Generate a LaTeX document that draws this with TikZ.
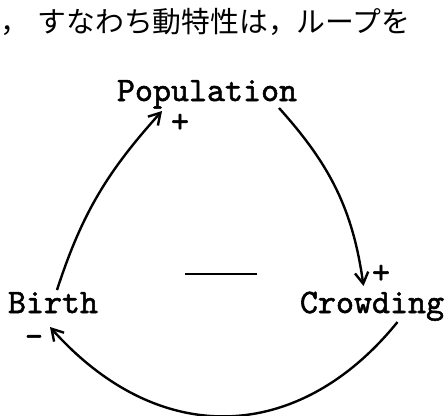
\documentclass[tikz,border=0pt]{standalone}
\usepackage{fontspec}
\newfontfamily\lblfont{lmmono10-regular.otf}[FakeBold=1.6]
\newfontfamily\jpfont{Noto Sans CJK JP}
\usetikzlibrary{arrows.meta}
\tikzset{
  var/.style={font=\lblfont\fontsize{24.4}{28}\selectfont, inner sep=0pt, anchor=base},
  sgn/.style={font=\lblfont\fontsize{24.4}{28}\selectfont, inner sep=0pt},
  lnk/.style={line width=1.7pt, -{Straight Barb[length=8pt,width=9.5pt,line width=1.7pt]}}
}

\begin{document}
\begin{tikzpicture}[x=0.025cm, y=-0.025cm]
  \useasboundingbox (0,0) rectangle (444,415);
  \node[font=\jpfont\fontsize{20.5}{23}\selectfont, anchor=base west, inner sep=0pt] (note) at (0,32) {，\hspace{6pt}すなわち動特性は，ループを};
  \node[var] (pop) at (207,101) {Population};
  \node[var] (birth) at (53,313) {Birth};
  \node[var] (crowd) at (372,313) {Crowding};
  \node[sgn] (ppop) at (180,123) {+};
  \node[sgn] (pcrowd) at (381,274) {+};
  \node[sgn] (mbirth) at (34,341) {-};
  \draw[line width=1.7pt] (185,274) -- (257,274);
  \draw[lnk] ([shift={(4,-23)}]birth.base) to[out=72, in=228] ([shift={(-45,10)}]pop.base);
  \draw[lnk] ([shift={(72,7)}]pop.base) to[out=-48, in=98] ([shift={(-8.5,-27)}]crowd.base);
  \draw[lnk] ([shift={(25.5,9)}]crowd.base) .. controls +(-98,121) and +(110,123) .. ([shift={(-3,14)}]birth.base);
\end{tikzpicture}
\end{document}
